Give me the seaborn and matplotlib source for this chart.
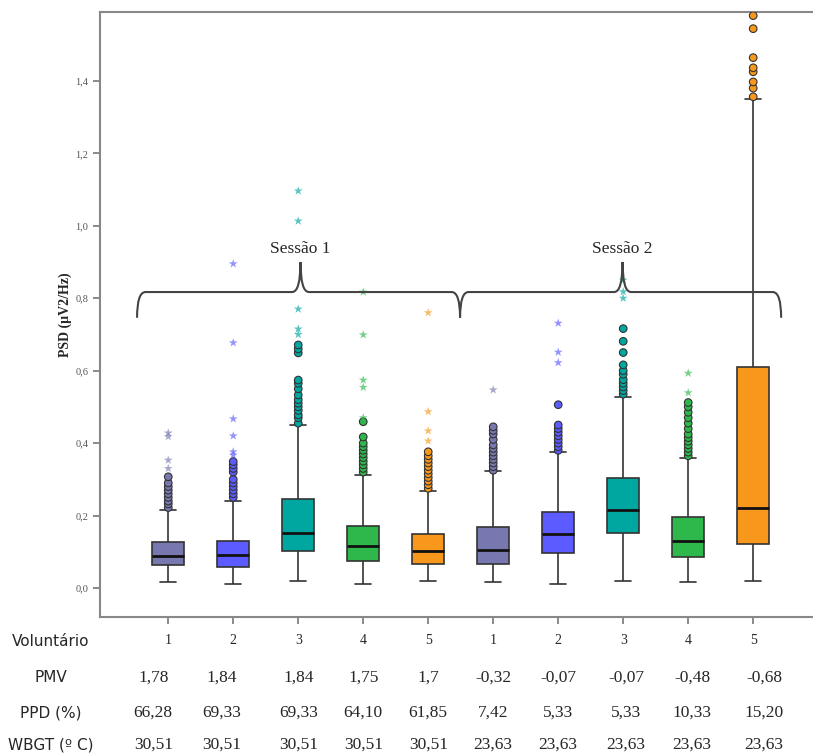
import numpy as np
import pandas as pd
import matplotlib
matplotlib.use("Agg")
import matplotlib.pyplot as plt
from matplotlib.path import Path
from matplotlib.patches import PathPatch
from matplotlib.ticker import FuncFormatter
import seaborn as sns

# ---- dados ----
voluntario = ["1", "2", "3", "4", "5", "1", "2", "3", "4", "5"]
pmv = ["1,78", "1,84", "1,84", "1,75", "1,7", "-0,32", "-0,07", "-0,07", "-0,48", "-0,68"]
ppd = ["66,28", "69,33", "69,33", "64,10", "61,85", "7,42", "5,33", "5,33", "10,33", "15,20"]
wbgt = ["30,51"] * 5 + ["23,63"] * 5
sessoes = ["Sessão 1", "Sessão 2"]

cores = ["#7878b0", "#5b5bff", "#00a6a0", "#2eb84b", "#f7981d"] * 2

# resumo de cinco números (mín. bigode, Q1, mediana, Q3, máx. bigode)
w_low = [0.017, 0.011, 0.019, 0.010, 0.019, 0.017, 0.011, 0.018, 0.016, 0.020]
q1 = [0.064, 0.058, 0.103, 0.075, 0.066, 0.066, 0.096, 0.151, 0.087, 0.121]
med = [0.088, 0.091, 0.152, 0.116, 0.102, 0.105, 0.149, 0.215, 0.131, 0.221]
q3 = [0.127, 0.131, 0.246, 0.172, 0.149, 0.168, 0.210, 0.303, 0.195, 0.611]
w_high = [0.215, 0.241, 0.450, 0.312, 0.269, 0.322, 0.376, 0.528, 0.358, 1.350]

# outliers (círculos) e extremos (estrelas)
circulos = [
    [0.222, 0.232, 0.24, 0.25, 0.26, 0.27, 0.28, 0.29, 0.307],
    [0.25, 0.26, 0.27, 0.28, 0.29, 0.30, 0.32, 0.33, 0.34, 0.349],
    [0.455, 0.47, 0.478, 0.49, 0.50, 0.51, 0.52, 0.533, 0.55, 0.565, 0.574, 0.649, 0.66, 0.671],
    [0.32, 0.33, 0.34, 0.35, 0.36, 0.37, 0.38, 0.39, 0.40, 0.417, 0.459],
    [0.275, 0.285, 0.295, 0.305, 0.315, 0.325, 0.335, 0.345, 0.355, 0.365, 0.376],
    [0.325, 0.335, 0.345, 0.355, 0.365, 0.375, 0.385, 0.395, 0.41, 0.425, 0.435, 0.445],
    [0.38, 0.39, 0.40, 0.41, 0.42, 0.43, 0.44, 0.45, 0.506],
    [0.535, 0.545, 0.555, 0.565, 0.575, 0.59, 0.60, 0.616, 0.65, 0.681, 0.716],
    [0.365, 0.375, 0.385, 0.395, 0.405, 0.415, 0.425, 0.44, 0.455, 0.47, 0.485, 0.50, 0.512],
    [1.356, 1.38, 1.397, 1.425, 1.436, 1.464, 1.544, 1.58],
]
estrelas = [
    [0.33, 0.353, 0.418, 0.428],
    [0.367, 0.376, 0.42, 0.467, 0.677, 0.895],
    [0.70, 0.715, 0.77, 1.013, 1.096],
    [0.47, 0.554, 0.574, 0.699, 0.817],
    [0.406, 0.434, 0.487, 0.76],
    [0.547],
    [0.622, 0.651, 0.731],
    [0.80, 0.818, 0.85],
    [0.539, 0.593],
    [],
]

# ---- tabelas longas ----
pos = list(range(len(voluntario)))
df_box = pd.DataFrame({
    "pos": np.repeat(pos, 5),
    "psd": np.column_stack([w_low, q1, med, q3, w_high]).ravel(),
})
df_circ = pd.DataFrame([(i, v) for i, vals in enumerate(circulos) for v in vals], columns=["pos", "psd"])
df_star = pd.DataFrame([(i, v) for i, vals in enumerate(estrelas) for v in vals], columns=["pos", "psd"])
paleta = {i: c for i, c in zip(pos, cores)}

sns.set_style("ticks")
plt.rcParams["font.family"] = ["DejaVu Sans"]

W, H = 813, 753
fig = plt.figure(figsize=(W / 100, H / 100), dpi=100)
ax = fig.add_axes([100 / W, 1 - 617 / H, 713 / W, 605 / H])

sns.boxplot(
    data=df_box, x="pos", y="psd", hue="pos", palette=paleta, native_scale=True,
    whis=(0, 100), width=0.5, saturation=1, linecolor="#333333", linewidth=1.2,
    legend=False, medianprops={"color": "#111111", "linewidth": 2.0}, ax=ax,
)
sns.scatterplot(
    data=df_circ, x="pos", y="psd", hue="pos", palette=paleta, marker="o",
    s=30, edgecolor="#333333", linewidth=0.8, legend=False, ax=ax, zorder=4,
)
sns.scatterplot(
    data=df_star, x="pos", y="psd", hue="pos", palette=paleta, marker="*",
    s=45, linewidth=0, alpha=0.65, legend=False, ax=ax, zorder=4,
)

ax.set_xlim(-1.05, 9.92)
ax.set_ylim(-0.08, 1.59)
ax.set_yticks(np.arange(0, 1.41, 0.2))
ax.yaxis.set_major_formatter(FuncFormatter(lambda v, _: f"{v:.1f}".replace(".", ",")))
ax.set_xticks(pos)
ax.set_xticklabels([])
ax.tick_params(axis="both", direction="out", length=5, width=1.2, color="#777777",
               labelsize=7.5, labelcolor="#555555")
for lab in ax.get_yticklabels():
    lab.set_family("Liberation Serif")
ax.set_xlabel("")
ax.set_ylabel("PSD (µV2/Hz)", family="Liberation Serif", fontweight="bold", fontsize=10)
ax.yaxis.label.set_va("center")
ax.yaxis.set_label_coords(-0.049, 0.5)
for nome_sp, sp in ax.spines.items():
    sp.set_visible(nome_sp != "right")
    sp.set_color("#888888")
    sp.set_linewidth(1.5)

# ---- chaves das sessões ----
y_line, y_low, y_tip, r = 0.817, 0.746, 0.90, 0.13
limites = [-0.48, 4.49, 9.43]
for k, nome in enumerate(sessoes):
    xa, xb = limites[k], limites[k + 1]
    xm = (xa + xb) / 2 + 0.03
    verts = [
        (xa, y_low), (xa, y_line), (xa + r, y_line),
        (xm - r, y_line), (xm, y_line), (xm, y_tip),
        (xm, y_line), (xm + r, y_line),
        (xb - r, y_line), (xb, y_line), (xb, y_low),
    ]
    codes = [Path.MOVETO, Path.CURVE3, Path.CURVE3,
             Path.LINETO, Path.CURVE3, Path.CURVE3,
             Path.CURVE3, Path.CURVE3,
             Path.LINETO, Path.CURVE3, Path.CURVE3]
    ax.add_patch(PathPatch(Path(verts, codes), facecolor="none", edgecolor="#444444", lw=1.5, zorder=5))
    ax.text(xm, 0.936, nome, ha="center", va="center", family="Liberation Serif", fontsize=12.5, zorder=6)

# ---- tabela abaixo do eixo ----
linhas = [("Voluntário", voluntario), ("PMV", pmv), ("PPD (%)", ppd), ("WBGT (º C)", wbgt)]
ys_px = [641, 678, 713, 745]
desvio_px = [-15, -12, 0, 0, 0, 0, 0, 3, 4, 11]  # colunas do texto ligeiramente deslocadas
for j, ((rotulo, vals), ypx) in enumerate(zip(linhas, ys_px)):
    yf = 1 - ypx / H
    fig.text(51 / W, yf, rotulo, ha="center", va="center", fontsize=11, family="DejaVu Sans")
    for i, v in enumerate(vals):
        xpx = ax.transData.transform((i, 0))[0]
        if j > 0:
            xpx += desvio_px[i]
        fs = 10 if j == 0 else 12.5
        fig.text(xpx / W, yf, v, ha="center", va="center", fontsize=fs, family="Liberation Serif")

fig.savefig("out.png", dpi=100)
